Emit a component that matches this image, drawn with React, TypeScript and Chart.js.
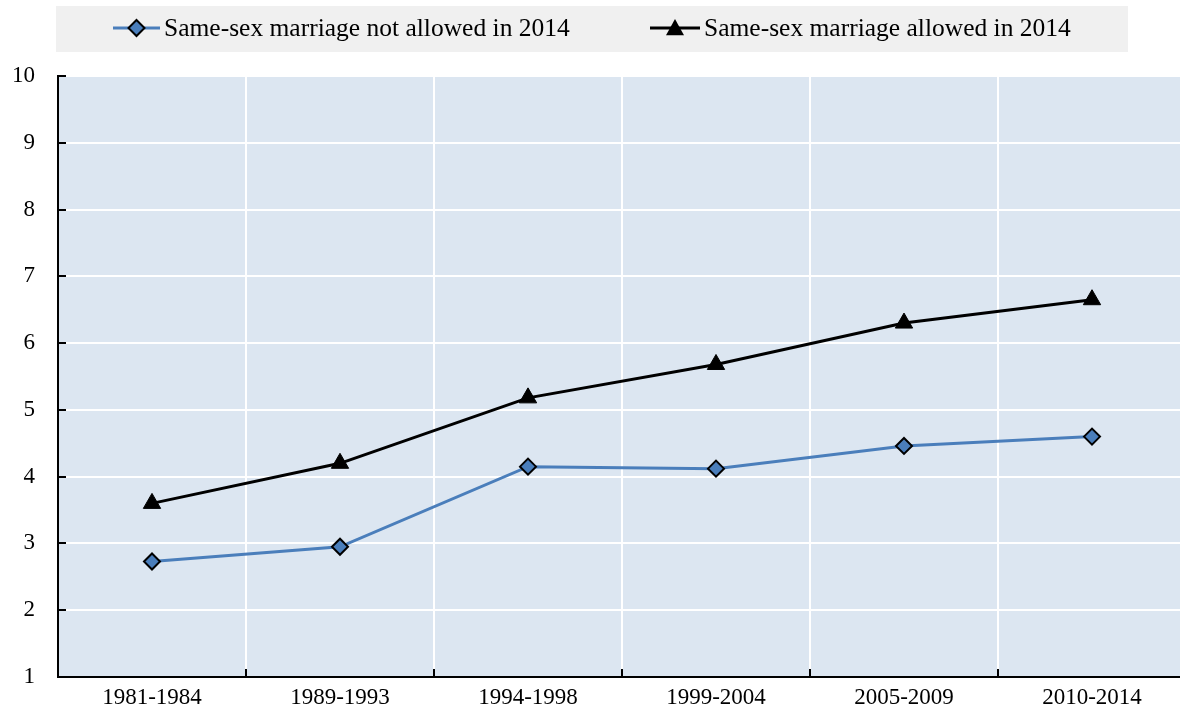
import React, { useEffect, useRef } from "react";
import { Chart, registerables } from "chart.js";

Chart.register(...registerables);

const categories = ["1981-1984", "1989-1993", "1994-1998", "1999-2004", "2005-2009", "2010-2014"];
const notAllowed = [2.73, 2.95, 4.15, 4.12, 4.46, 4.6];
const allowed = [3.6, 4.2, 5.18, 5.68, 6.3, 6.65];
const seriesLabels = ["Same-sex marriage not allowed in 2014", "Same-sex marriage allowed in 2014"];
const yMin = 1;
const yMax = 10;

const FONT = "'Liberation Serif', 'Times New Roman', serif";
const BLUE = "#4a7ebb";

function drawDiamond(ctx: CanvasRenderingContext2D, x: number, y: number, r: number) {
  ctx.beginPath();
  ctx.moveTo(x, y - r);
  ctx.lineTo(x + r, y);
  ctx.lineTo(x, y + r);
  ctx.lineTo(x - r, y);
  ctx.closePath();
  ctx.fillStyle = BLUE;
  ctx.fill();
  ctx.lineWidth = 2;
  ctx.strokeStyle = "#000";
  ctx.stroke();
}

function drawTriangle(ctx: CanvasRenderingContext2D, x: number, y: number, r: number) {
  ctx.beginPath();
  ctx.moveTo(x, y - r);
  ctx.lineTo(x + r, y + r * 0.8);
  ctx.lineTo(x - r, y + r * 0.8);
  ctx.closePath();
  ctx.fillStyle = "#000";
  ctx.fill();
}

const decorPlugin = {
  id: "decor",
  beforeDraw(chart: any) {
    const { ctx, chartArea } = chart;
    ctx.save();
    ctx.fillStyle = "#dce6f1";
    ctx.fillRect(chartArea.left, chartArea.top, chartArea.right - chartArea.left, chartArea.bottom - chartArea.top);
    ctx.restore();
  },
  beforeDatasetsDraw(chart: any) {
    const { ctx, chartArea, scales } = chart;
    ctx.save();
    ctx.strokeStyle = "#000";
    ctx.lineWidth = 2;
    const ys = scales.y;
    for (let v = yMin; v <= yMax; v++) {
      const py = Math.round(ys.getPixelForValue(v));
      ctx.beginPath();
      ctx.moveTo(chartArea.left, py);
      ctx.lineTo(chartArea.left + 8, py);
      ctx.stroke();
    }
    const xs = scales.x;
    for (let i = 0; i <= categories.length; i++) {
      const px = Math.round(xs.getPixelForValue(i - 0.5));
      ctx.beginPath();
      ctx.moveTo(px, chartArea.bottom);
      ctx.lineTo(px, chartArea.bottom - 8);
      ctx.stroke();
    }
    ctx.restore();
  },
  afterDraw(chart: any) {
    const { ctx } = chart;
    ctx.save();
    ctx.fillStyle = "#f0f0f0";
    ctx.fillRect(56, 6, 1072, 46);
    ctx.font = "25.5px " + FONT;
    ctx.textBaseline = "middle";
    const lineLen = 47;
    const gap = 4;
    const y = 28;
    // item 1
    let x = 113;
    ctx.strokeStyle = BLUE;
    ctx.lineWidth = 3;
    ctx.beginPath();
    ctx.moveTo(x, y);
    ctx.lineTo(x + lineLen, y);
    ctx.stroke();
    drawDiamond(ctx, x + lineLen / 2, y, 8);
    ctx.fillStyle = "#000";
    ctx.fillText(seriesLabels[0], x + lineLen + gap, y + 1);
    // item 2
    x = 650;
    ctx.strokeStyle = "#000";
    ctx.lineWidth = 3;
    ctx.beginPath();
    ctx.moveTo(x, y);
    ctx.lineTo(x + lineLen + 3, y);
    ctx.stroke();
    drawTriangle(ctx, x + (lineLen + 3) / 2, y, 9);
    ctx.fillStyle = "#000";
    ctx.fillText(seriesLabels[1], x + lineLen + 3 + gap, y + 1);
    ctx.restore();
  },
};

export default function App() {
  const ref = useRef<HTMLCanvasElement | null>(null);
  useEffect(() => {
    if (!ref.current) return;
    const chart = new Chart(ref.current, {
      type: "line",
      data: {
        labels: categories,
        datasets: [
          {
            label: seriesLabels[0],
            data: notAllowed,
            borderColor: BLUE,
            borderWidth: 3,
            pointStyle: "rectRot",
            pointRadius: 8,
            pointHoverRadius: 8,
            pointBackgroundColor: BLUE,
            pointBorderColor: "#000",
            pointBorderWidth: 2,
            tension: 0,
          },
          {
            label: seriesLabels[1],
            data: allowed,
            borderColor: "#000",
            borderWidth: 3,
            pointStyle: "triangle",
            pointRadius: 10,
            pointHoverRadius: 10,
            pointBackgroundColor: "#000",
            pointBorderColor: "#000",
            pointBorderWidth: 1,
            tension: 0,
          },
        ],
      },
      options: {
        responsive: false,
        animation: false,
        events: [],
        layout: { autoPadding: false, padding: { top: 76, left: 0, right: 0, bottom: 0 } },
        plugins: { legend: { display: false }, tooltip: { enabled: false } },
        scales: {
          x: {
            type: "category",
            offset: true,
            grid: { offset: true, color: "#ffffff", lineWidth: 2, drawTicks: false },
            border: { display: true, color: "#000", width: 2 },
            ticks: { color: "#000", font: { family: FONT, size: 23 }, padding: 7, maxRotation: 0, autoSkip: false },
            afterFit: (s: any) => {
              s.height = 34;
              s.paddingLeft = 0;
              s.paddingRight = 0;
            },
          },
          y: {
            min: yMin,
            max: yMax,
            grid: { color: "#ffffff", lineWidth: 2, drawTicks: false },
            border: { display: true, color: "#000", width: 2 },
            ticks: { stepSize: 1, color: "#000", font: { family: FONT, size: 23 }, padding: 23 },
            afterFit: (s: any) => {
              s.width = 58;
              s.paddingTop = 0;
              s.paddingBottom = 0;
            },
          },
        },
      },
      plugins: [decorPlugin],
    });
    return () => chart.destroy();
  }, []);
  return (
    <div style={{ position: "fixed", left: 0, top: 0, width: 1180, height: 711, overflow: "hidden", background: "#fff" }}>
      <canvas ref={ref} width={1186} height={711} style={{ width: 1186, height: 711, display: "block" }} />
    </div>
  );
}
